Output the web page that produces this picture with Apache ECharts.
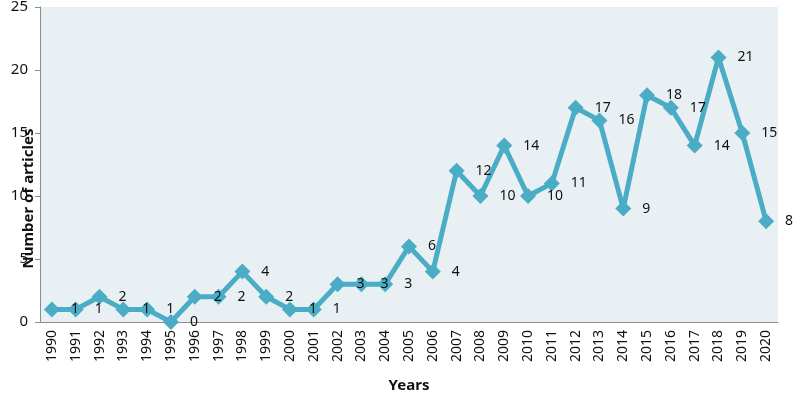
<!DOCTYPE html>
<html>
<head>
<meta charset="utf-8">
<script src="https://cdn.jsdelivr.net/npm/echarts@6/dist/echarts.min.js"></script>
<style>
  html, body { margin: 0; padding: 0; background: #fff; }
  #chart { width: 801px; height: 398px; }
</style>
</head>
<body>
<div id="chart"></div>
<script>
// publication counts per year
const years = ['1990','1991','1992','1993','1994','1995','1996','1997','1998','1999',
  '2000','2001','2002','2003','2004','2005','2006','2007','2008','2009',
  '2010','2011','2012','2013','2014','2015','2016','2017','2018','2019','2020'];
const articles = [1, 1, 2, 1, 1, 0, 2, 2, 4, 2, 1, 1, 3, 3, 3, 6, 4, 12, 10, 14,
  10, 11, 17, 16, 9, 18, 17, 14, 21, 15, 8];
const yTicks = { min: 0, max: 25, step: 5 };

const font = "'Noto Sans', 'Open Sans', sans-serif";
const chart = echarts.init(document.getElementById('chart'));

chart.setOption({
  animation: false,
  textStyle: { fontFamily: font },
  grid: {
    left: 40, right: 23, top: 7, bottom: 76,
    outerBoundsMode: 'none',
    containLabel: false,
    show: true,
    backgroundColor: '#E8F0F4',
    borderWidth: 0
  },
  xAxis: {
    type: 'category',
    data: years,
    boundaryGap: true,
    name: 'Years',
    nameLocation: 'middle',
    nameGap: 56,
    nameTextStyle: { fontSize: 15, fontWeight: 'bold', color: '#111', fontFamily: font },
    axisLine: { lineStyle: { color: '#8c8c8c', width: 1 } },
    axisTick: { show: false },
    axisLabel: { rotate: 90, fontSize: 14, color: '#111', margin: 8, interval: 0 }
  },
  yAxis: {
    type: 'value',
    min: yTicks.min,
    max: yTicks.max,
    interval: yTicks.step,
    name: 'Number of articles',
    nameLocation: 'middle',
    nameGap: 4,
    nameMoveOverlap: false,
    // title sits a bit below the middle of the axis, as in the original
    nameTextStyle: { fontSize: 15, fontWeight: 'bold', color: '#111', fontFamily: font, padding: [0, 68, 0, 0] },
    axisLine: { show: true, lineStyle: { color: '#8c8c8c', width: 1 } },
    axisTick: { show: true, length: 5, lineStyle: { color: '#8c8c8c' } },
    axisLabel: { fontSize: 15, color: '#111', margin: 12 },
    splitLine: { show: false }
  },
  series: [{
    type: 'line',
    data: articles,
    symbol: 'diamond',
    symbolSize: 16,
    itemStyle: { color: '#4BACC6' },
    lineStyle: { color: '#4BACC6', width: 5 },
    label: {
      show: true,
      position: 'right',
      distance: 11,
      fontSize: 14,
      color: '#111'
    }
  }]
});
</script>
</body>
</html>
